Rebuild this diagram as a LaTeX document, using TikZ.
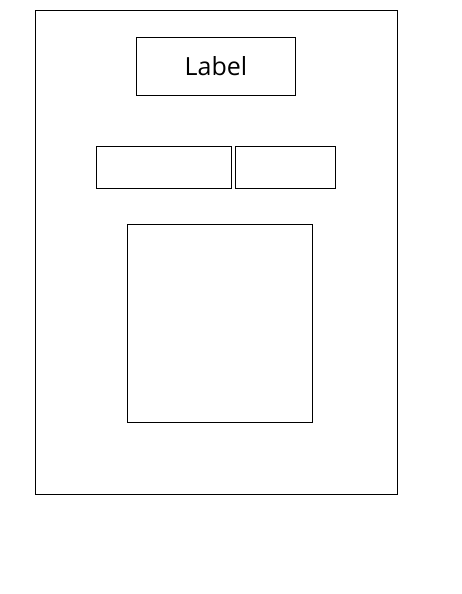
\documentclass[tikz,border=0pt]{standalone}
\usepackage{fontspec}
\setmainfont{Open Sans}
\tikzset{
  box/.style={draw,line width=0.8pt,inner sep=0pt,anchor=north west},
}
\begin{document}
\begin{tikzpicture}[x=1pt,y=-1pt]
    \useasboundingbox (0,0) rectangle (462,594);
    \node[box,minimum width=362pt,minimum height=484pt] (frame) at (35,10) {};
    \node[box,minimum width=159pt,minimum height=58pt,font=\fontsize{25}{29}\selectfont] (label) at (136,37) {Label};
    \node[box,minimum width=135pt,minimum height=42pt] (left) at (96,146) {};
    \node[box,minimum width=100pt,minimum height=42pt] (right) at (235,146) {};
    \node[box,minimum width=185pt,minimum height=198pt] (body) at (127,224) {};
  \end{tikzpicture}
\end{document}
